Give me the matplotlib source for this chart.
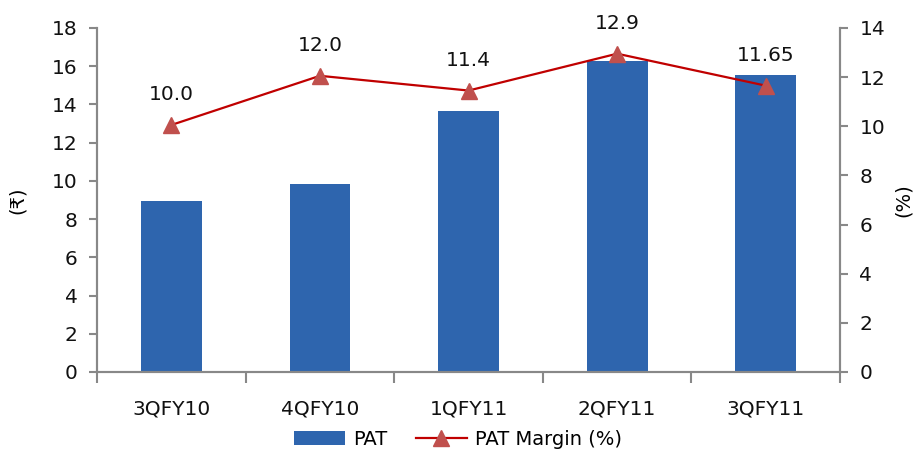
import numpy as np
import matplotlib
matplotlib.use("Agg")
import matplotlib.pyplot as plt

# Datos
quarters = ["3QFY10", "4QFY10", "1QFY11", "2QFY11", "3QFY11"]
pat = [8.95, 9.85, 13.65, 16.25, 15.55]
pat_margin = [10.05, 12.05, 11.45, 12.95, 11.65]
margin_labels = ["10.0", "12.0", "11.4", "12.9", "11.65"]

plt.rcParams["font.family"] = ["DejaVu Sans"]
plt.rcParams["font.size"] = 14.5

fig = plt.figure(figsize=(9.16, 4.57), dpi=100)
ax = fig.add_axes([0.106, 0.186, 0.811, 0.753])
ax2 = ax.twinx()

x = np.arange(len(quarters))
ax.bar(x, pat, width=0.41, color="#2E65AE", label="PAT", zorder=2)
ax.set_xlim(-0.5, len(quarters) - 0.5)
ax.set_ylim(0, 18)
ax.set_yticks(np.arange(0, 19, 2))

ax2.plot(x, pat_margin, color="#C00000", lw=1.6, marker="^", ms=11,
         mfc="#C0504D", mec="#C0504D", label="PAT Margin (%)", zorder=3)
ax2.set_ylim(0, 14)
ax2.set_yticks(np.arange(0, 15, 2))
for xi, yi, lab in zip(x, pat_margin, margin_labels):
    ax2.annotate(lab, (xi, yi), xytext=(0, 15), textcoords="offset points",
                 ha="center", va="bottom", fontsize=14.5, color="#111111")

grey = "#888888"
for a in (ax, ax2):
    a.spines["top"].set_visible(False)
    for s in ("left", "right", "bottom"):
        a.spines[s].set_color(grey)
        a.spines[s].set_linewidth(1.5)
    a.tick_params(axis="y", colors=grey, labelcolor="#111111", length=6, width=1.5, pad=8)

ax.set_xticks(np.arange(-0.5, len(quarters), 1.0), minor=False)
ax.set_xticklabels([])
ax.set_xticks(x, minor=True)
ax.set_xticklabels(quarters, minor=True)
ax.tick_params(axis="x", which="major", length=8, width=1.5, colors=grey, direction="out")
ax.tick_params(axis="x", which="minor", length=0, pad=20, labelcolor="#111111")

ax.set_ylabel("(₹)", fontsize=14, labelpad=18)
ax2.set_ylabel("(%)", fontsize=14, labelpad=6)

h1, l1 = ax.get_legend_handles_labels()
h2, l2 = ax2.get_legend_handles_labels()
fig.legend(h1 + h2, l1 + l2, loc="lower center", ncol=2, frameon=False,
           bbox_to_anchor=(0.5, -0.02), fontsize=14, handlelength=2.6,
           columnspacing=1.5, handletextpad=0.4)

fig.savefig("out.png", dpi=100)
